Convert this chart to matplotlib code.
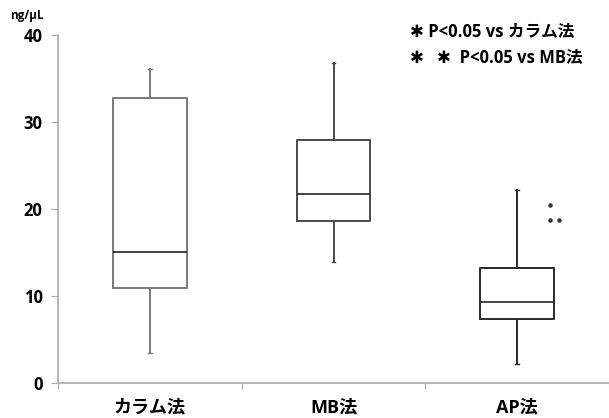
import matplotlib
matplotlib.use('Agg')
import matplotlib.pyplot as plt

plt.rcParams['font.family'] = ['Open Sans', 'Noto Sans CJK JP', 'DejaVu Sans']

# データ (ng/μL)
methods = ["カラム法", "MB法", "AP法"]
whisker_low = [3.5, 13.9, 2.2]
q1 = [10.9, 18.6, 7.35]
median = [15.1, 21.7, 9.3]
q3 = [32.8, 27.9, 13.2]
whisker_high = [36.1, 36.8, 22.2]
ap_outliers = [20.5, 18.7, 18.7]
y_ticks = [0, 10, 20, 30, 40]

edge_colors = ["#7a7a7a", "#4a4a4a", "#2a2a2a"]

fig = plt.figure(figsize=(6.09, 4.18), dpi=100)
ax = fig.add_axes([58 / 609, 1 - 383 / 418, 1 - 58 / 609, (383 - 35) / 418])

stats = []
for i, name in enumerate(methods):
    stats.append(dict(label=name, whislo=whisker_low[i], q1=q1[i], med=median[i],
                      q3=q3[i], whishi=whisker_high[i], fliers=[]))

positions = list(range(1, len(methods) + 1))
for i, st in enumerate(stats):
    c = edge_colors[i]
    ax.bxp([st], positions=[positions[i]], widths=0.4, showfliers=False,
           boxprops=dict(color=c, linewidth=1.4),
           whiskerprops=dict(color=c, linewidth=1.4),
           capprops=dict(color=c, linewidth=1.0),
           medianprops=dict(color="#222222", linewidth=1.2),
           capwidths=0.02, manage_ticks=False)

# 外れ値 (AP法)
offsets = [0.18, 0.18, 0.23]
ax.scatter([positions[2] + o for o in offsets], ap_outliers, s=5, color="#333333", zorder=3)

ax.set_ylim(0, 40)
ax.set_xlim(0.5, 3.5)
ax.set_yticks(y_ticks)
ax.set_yticklabels([str(v) for v in y_ticks], fontsize=12, fontweight="bold")
ax.set_xticks([0.5, 1.5, 2.5, 3.5])
ax.set_xticklabels([])
ax.set_xticks(positions, minor=True)
ax.set_xticklabels(methods, minor=True, fontsize=13, fontweight="bold")
ax.tick_params(axis="x", which="major", length=4, color="#aaaaaa", direction="out")
ax.tick_params(axis="x", which="minor", length=0, pad=11)
ax.tick_params(axis="y", length=5, color="#aaaaaa", pad=6)

for s in ["top", "right"]:
    ax.spines[s].set_visible(False)
for s in ["left", "bottom"]:
    ax.spines[s].set_color("#aaaaaa")
    ax.spines[s].set_linewidth(1.2)

note_font = ['Open Sans', 'DejaVu Sans', 'Noto Sans CJK JP']
fig.text(10 / 609, 1 - 15 / 418, "ng/μL", fontsize=8.5, fontweight="bold", va="center", ha="left")
fig.text(410 / 609, 1 - 32 / 418, "✱ P<0.05 vs カラム法", fontsize=12, fontweight="bold",
         family=note_font, va="center", ha="left")
fig.text(410 / 609, 1 - 58 / 418, "✱   ✱  P<0.05 vs MB法", fontsize=12, fontweight="bold",
         family=note_font, va="center", ha="left")

fig.savefig("out.png", dpi=100)
